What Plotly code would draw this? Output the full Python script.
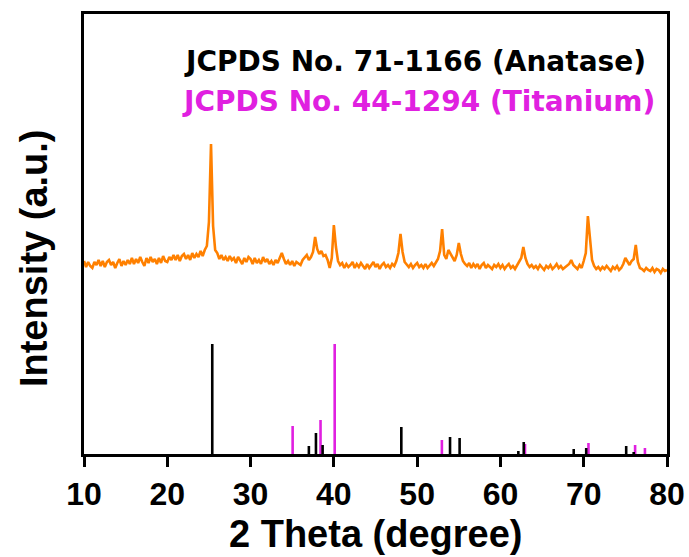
import numpy as np
import plotly.graph_objects as go

# Measured XRD pattern, 2-theta from 10 to 80 deg in 0.25 deg steps (arb. units)
two_theta = np.round(np.arange(10.0, 80.0001, 0.25), 2)
counts = [
    193, 187, 192, 188,  # 10
    186, 192, 189, 194,  # 11
    188, 193, 187, 192,  # 12
    194, 189, 192, 186,  # 13
    191, 195, 188, 193,  # 14
    189, 194, 190, 196,  # 15
    190, 195, 191, 197,  # 16
    192, 188, 196, 191,  # 17
    197, 192, 195, 190,  # 18
    196, 191, 198, 193,  # 19
    192, 197, 194, 199,  # 20
    194, 199, 193, 198,  # 21
    200, 195, 199, 194,  # 22
    201, 196, 200, 197,  # 23
    203, 198, 204, 208,  # 24
    232, 310, 228, 204,  # 25
    201, 195, 199, 194,  # 26
    197, 193, 198, 194,  # 27
    196, 191, 197, 193,  # 28
    190, 196, 192, 197,  # 29
    195, 190, 196, 191,  # 30
    194, 190, 197, 192,  # 31
    195, 190, 193, 189,  # 32
    194, 191, 196, 201,  # 33
    195, 190, 193, 189,  # 34
    193, 188, 192, 190,  # 35
    189, 194, 196, 199,  # 36
    194, 197, 202, 217,  # 37
    205, 200, 203, 198,  # 38
    199, 194, 186, 196,  # 39
    229, 207, 193, 189,  # 40
    191, 186, 190, 187,  # 41
    189, 192, 186, 190,  # 42
    187, 191, 188, 185,  # 43
    190, 186, 189, 192,  # 44
    187, 190, 185, 189,  # 45
    191, 187, 189, 186,  # 46
    190, 188, 193, 201,  # 47
    220, 202, 192, 189,  # 48
    187, 190, 186, 189,  # 49
    191, 187, 189, 186,  # 50
    190, 186, 188, 191,  # 51
    188, 192, 195, 203,  # 52
    225, 199, 195, 204,  # 53
    200, 196, 193, 199,  # 54
    211, 200, 193, 190,  # 55
    188, 191, 186, 190,  # 56
    187, 190, 185, 189,  # 57
    191, 186, 189, 187,  # 58
    185, 189, 187, 190,  # 59
    186, 189, 185, 188,  # 60
    190, 186, 188, 185,  # 61
    189, 192, 196, 207,  # 62
    196, 190, 187, 189,  # 63
    186, 188, 185, 189,  # 64
    187, 184, 188, 186,  # 65
    189, 185, 187, 190,  # 66
    186, 188, 185, 187,  # 67
    189, 190, 194, 189,  # 68
    187, 185, 189, 186,  # 69
    193, 201, 238, 212,  # 70
    194, 188, 185, 187,  # 71
    184, 187, 185, 188,  # 72
    186, 183, 187, 185,  # 73
    188, 184, 186, 190,  # 74
    196, 192, 189, 193,  # 75
    195, 209, 192, 186,  # 76
    185, 183, 186, 184,  # 77
    183, 186, 182, 185,  # 78
    184, 181, 185, 183,  # 79
    184,                 # 80
]

# Reference stick patterns (position in deg, relative height)
anatase_pos = [25.40, 37.00, 37.85, 38.65, 48.10, 53.95, 55.10, 62.15, 62.80,
               68.80, 70.30, 75.10, 76.00]
anatase_int = [110, 8, 21, 9, 27, 17, 16, 3, 12, 5, 6, 8, 2]

titanium_pos = [35.05, 38.40, 40.10, 52.97, 62.95, 70.57, 76.17, 77.35]
titanium_int = [28, 34, 110, 14, 10, 11, 9, 6]

x_ticks = [10, 20, 30, 40, 50, 60, 70, 80]

ORANGE = "#FF8000"
MAGENTA = "#E020E0"
FONT = "Liberation Sans, Arial, sans-serif"
WIDE = "DejaVu Sans, Liberation Sans, sans-serif"


def sticks(pos, height):
    xs, ys = [], []
    for p, h in zip(pos, height):
        xs += [p, p, None]
        ys += [0, h, None]
    return xs, ys


fig = go.Figure()

fig.add_trace(go.Scatter(x=two_theta, y=counts, mode="lines",
                         line=dict(color=ORANGE, width=2.6),
                         showlegend=False, hoverinfo="skip"))

tx, ty = sticks(titanium_pos, titanium_int)
fig.add_trace(go.Scatter(x=tx, y=ty, mode="lines",
                         line=dict(color=MAGENTA, width=2.6),
                         showlegend=False, hoverinfo="skip"))

ax, ay = sticks(anatase_pos, anatase_int)
fig.add_trace(go.Scatter(x=ax, y=ay, mode="lines",
                         line=dict(color="black", width=2.6),
                         showlegend=False, hoverinfo="skip"))

fig.update_layout(
    width=689, height=557,
    margin=dict(l=84, r=22, t=14, b=103, autoexpand=False),
    paper_bgcolor="white", plot_bgcolor="white",
    font=dict(family=FONT, color="black"),
    xaxis=dict(range=[10, 80], tickvals=x_ticks, ticktext=[str(v) for v in x_ticks],
               automargin=False,
               showline=True, linecolor="black", linewidth=2.6, mirror=True,
               ticks="outside", ticklen=10, tickwidth=2.6, tickcolor="black",
               showgrid=False, zeroline=False,
               tickfont=dict(family=FONT, size=32, color="black", weight="bold")),
    yaxis=dict(range=[0, 440], showticklabels=False, ticks="", automargin=False,
               showline=True, linecolor="black", linewidth=2.6, mirror=True,
               showgrid=False, zeroline=False),
)

fig.add_annotation(text="<b>2 Theta (degree)</b>", xref="paper", yref="paper",
                   x=0.5, y=-0.181, xanchor="center", yanchor="middle",
                   showarrow=False, font=dict(family=FONT, size=38, color="black"))
fig.add_annotation(text="<b>Intensity (a.u.)</b>", xref="paper", yref="paper",
                   x=-0.086, y=0.445, xanchor="center", yanchor="middle",
                   textangle=-90, showarrow=False,
                   font=dict(family=FONT, size=38, color="black"))
fig.add_annotation(text="<b>JCPDS No. 71-1166 (Anatase)</b>", xref="paper", yref="paper",
                   x=0.967, y=0.893, xanchor="right", yanchor="middle",
                   showarrow=False, font=dict(family=WIDE, size=28, color="black"))
fig.add_annotation(text="<b>JCPDS No. 44-1294 (Titanium)</b>", xref="paper", yref="paper",
                   x=0.983, y=0.802, xanchor="right", yanchor="middle",
                   showarrow=False, font=dict(family=WIDE, size=28, color=MAGENTA))

fig.write_html("out.html")
